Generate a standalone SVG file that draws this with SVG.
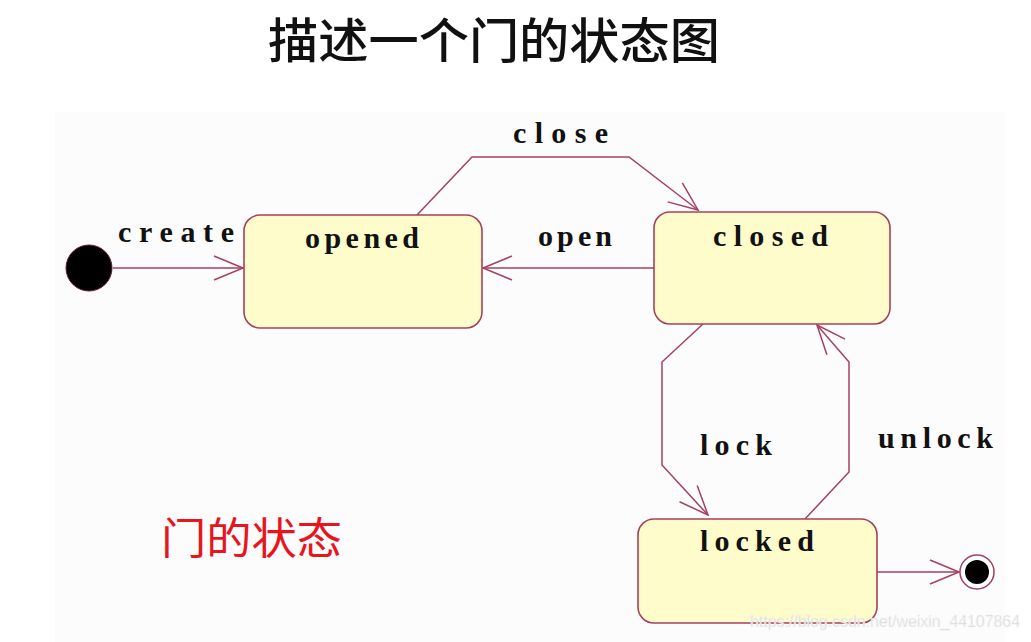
<svg xmlns="http://www.w3.org/2000/svg" width="1031" height="642" viewBox="0 0 1031 642">
  <style>
    .state rect { fill: #fefccb; stroke: #a6405e; stroke-width: 1.6; }
    .name { font-family: "Liberation Serif", serif; font-weight: bold; font-size: 30px; fill: #111; }
    .lbl { font-family: "Liberation Serif", serif; font-weight: bold; font-size: 30px; fill: #111; }
    .conn { fill: none; stroke: #a6405e; stroke-width: 1.5; }
    .title { font-family: "Noto Sans CJK SC", "Noto Sans", sans-serif; font-size: 48px; font-weight: 500; fill: #111; }
    .red { font-family: "Noto Sans CJK SC", "Noto Sans", sans-serif; font-size: 43px; fill: #e8141e; }
    .wm { font-family: "Liberation Sans", sans-serif; font-size: 16px; fill: #d8d8d8; stroke: #f4f4f4; stroke-width: 0.5; }
  </style>
  <defs>
    <marker id="arr" markerUnits="userSpaceOnUse" markerWidth="34" markerHeight="30" viewBox="-32 -15 34 30" refX="0" refY="0" orient="auto">
      <path d="M -29 -12 L 0 0 L -29 12" fill="none" stroke="#a6405e" stroke-width="1.5"/>
    </marker>
  </defs>
  <rect x="0" y="0" width="1031" height="642" fill="#ffffff"/>
  <rect x="55" y="112" width="950" height="530" fill="#fcfcfc"/>

  <text class="title" x="494" y="58" text-anchor="middle" textLength="452" lengthAdjust="spacingAndGlyphs">描述一个门的状态图</text>
  <text class="red" x="161" y="554" textLength="181" lengthAdjust="spacingAndGlyphs">门的状态</text>

  <g id="connectors">
    <path class="conn" d="M 113 268 L 243 268" marker-end="url(#arr)"/>
    <path class="conn" d="M 417 215 L 472 157 L 629 157 L 698 210" marker-end="url(#arr)"/>
    <path class="conn" d="M 654 268 L 483 268" marker-end="url(#arr)"/>
    <path class="conn" d="M 703 324 L 662 362 L 662 465 L 708 515" marker-end="url(#arr)"/>
    <path class="conn" d="M 805 519 L 849 472 L 849 362 L 817 325" marker-end="url(#arr)"/>
    <path class="conn" d="M 877 572 L 959 572" marker-end="url(#arr)"/>
    <text class="lbl" x="118" y="242" textLength="116" lengthAdjust="spacing">create</text>
    <text class="lbl" x="513" y="143" textLength="95" lengthAdjust="spacing">close</text>
    <text class="lbl" x="538" y="246" textLength="74" lengthAdjust="spacing">open</text>
    <text class="lbl" x="700" y="455" textLength="72" lengthAdjust="spacing">lock</text>
    <text class="lbl" x="878" y="448" textLength="115" lengthAdjust="spacing">unlock</text>
  </g>

  <g id="initial">
    <circle cx="89" cy="268" r="23" fill="#000" stroke="#6a1a2e" stroke-width="1"/>
  </g>

  <g id="opened" class="state">
    <rect x="244" y="215" width="238" height="113" rx="16" ry="16"/>
    <text class="name" x="305" y="248" textLength="114" lengthAdjust="spacing">opened</text>
  </g>

  <g id="closed" class="state">
    <rect x="654" y="212" width="236" height="112" rx="16" ry="16"/>
    <text class="name" x="713" y="246" textLength="115" lengthAdjust="spacing">closed</text>
  </g>

  <g id="locked" class="state">
    <rect x="638" y="519" width="239" height="104" rx="16" ry="16"/>
    <text class="name" x="700" y="551" textLength="114" lengthAdjust="spacing">locked</text>
  </g>

  <g id="final">
    <circle cx="977" cy="572" r="17" fill="#fff" stroke="#a6405e" stroke-width="1.5"/>
    <circle cx="977" cy="572" r="12" fill="#000"/>
  </g>

  <text class="wm" x="750" y="627" textLength="270" lengthAdjust="spacingAndGlyphs">https://blog.csdn.net/weixin_44107864</text>
</svg>
